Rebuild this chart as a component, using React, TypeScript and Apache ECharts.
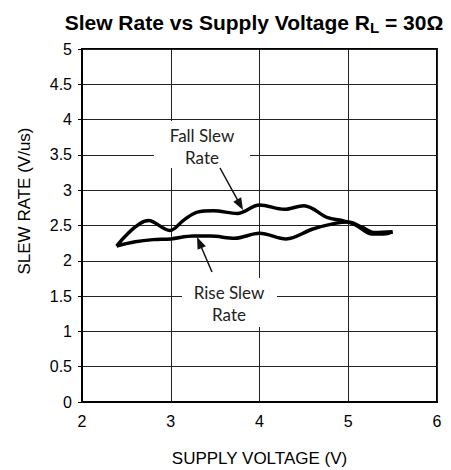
import React, { useEffect, useRef } from "react";
import * as echarts from "echarts";

const fallData: [number, number][] = [
  [2.39, 2.21], [2.75, 2.57], [2.99, 2.43], [3.15, 2.58], [3.3, 2.69], [3.48, 2.71],
  [3.75, 2.67], [4.0, 2.79], [4.28, 2.73], [4.5, 2.78], [4.77, 2.61], [4.93, 2.57],
  [5.08, 2.51], [5.27, 2.38], [5.4, 2.38], [5.5, 2.41],
];
const riseData: [number, number][] = [
  [2.39, 2.21], [2.6, 2.27], [2.8, 2.3], [3.0, 2.31], [3.25, 2.35], [3.45, 2.35],
  [3.72, 2.32], [4.0, 2.39], [4.3, 2.31], [4.6, 2.45], [4.85, 2.53], [5.0, 2.55],
  [5.15, 2.48], [5.3, 2.4], [5.5, 2.41],
];
const xTicks = { min: 2, max: 6, interval: 1 };
const yTicks = { min: 0, max: 5, interval: 0.5 };
const titleMain = "Slew Rate vs Supply Voltage R";
const titleSub = "L";
const titleTail = " = 30Ω";
const xName = "SUPPLY VOLTAGE (V)";
const yName = "SLEW RATE (V/us)";
const fallLabel = ["Fall Slew", "Rate"];
const riseLabel = ["Rise Slew", "Rate"];

const FONT = "'Liberation Sans', Arial, sans-serif";
const ANNO_FONT = "Lato, 'Open Sans', sans-serif";

function arrow(x1: number, y1: number, x2: number, y2: number) {
  const dx = x2 - x1, dy = y2 - y1;
  const len = Math.sqrt(dx * dx + dy * dy);
  const ux = dx / len, uy = dy / len;
  const hl = 12, hw = 4.5;
  const bx = x2 - ux * hl, by = y2 - uy * hl;
  const px = -uy * hw, py = ux * hw;
  return [
    { type: "line", z: 100, shape: { x1, y1, x2: bx + ux * 2, y2: by + uy * 2 }, style: { stroke: "#111", lineWidth: 1.5 } },
    { type: "polygon", z: 100, shape: { points: [[x2, y2], [bx + px, by + py], [bx - px, by - py]] }, style: { fill: "#111" } },
  ];
}

function label(lines: string[], cx: number, y1: number, y2: number, box: [number, number, number, number]) {
  return [
    { type: "rect", z: 99, shape: { x: box[0], y: box[1], width: box[2], height: box[3] }, style: { fill: "#fff" } },
    { type: "text", z: 100, x: cx, y: y1, style: { text: lines[0], font: `17px ${ANNO_FONT}`, fill: "#222", align: "center", verticalAlign: "middle" } },
    { type: "text", z: 100, x: cx, y: y2, style: { text: lines[1], font: `17px ${ANNO_FONT}`, fill: "#222", align: "center", verticalAlign: "middle" } },
  ];
}

export default function App() {
  const ref = useRef<HTMLDivElement>(null);
  useEffect(() => {
    document.body.style.margin = "0";
    const chart = echarts.init(ref.current!, undefined, { renderer: "svg" });
    const lineSeries = (name: string, data: [number, number][]) => ({
      name,
      type: "line",
      data,
      smooth: 0.35,
      showSymbol: false,
      lineStyle: { color: "#000", width: 3.5 },
      z: 5,
    });
    chart.setOption({
      animation: false,
      backgroundColor: "#fff",
      grid: { left: 82, top: 49, width: 355, height: 353, show: true, borderColor: "#000", borderWidth: 2, backgroundColor: "transparent" },
      xAxis: {
        type: "value",
        ...xTicks,
        axisLine: { show: true, lineStyle: { color: "#000", width: 2 } },
        axisTick: { show: false },
        axisLabel: { color: "#000", fontSize: 16, fontFamily: FONT, margin: 11 },
        splitLine: { show: true, lineStyle: { color: "#222", width: 1 } },
      },
      yAxis: {
        type: "value",
        ...yTicks,
        axisLine: { show: true, lineStyle: { color: "#000", width: 2 } },
        axisTick: { show: true, length: 4, lineStyle: { color: "#000", width: 1 } },
        axisLabel: { color: "#000", fontSize: 16, fontFamily: FONT, margin: 10 },
        splitLine: { show: true, lineStyle: { color: "#222", width: 1 } },
      },
      series: [lineSeries("Fall Slew Rate", fallData), lineSeries("Rise Slew Rate", riseData)],
      graphic: [
        {
          type: "text", z: 100, x: 254, y: 22,
          style: {
            text: `{a|${titleMain}}{b|${titleSub}}{a|${titleTail}}`,
            align: "center", verticalAlign: "middle",
            rich: {
              a: { fontSize: 21, fontWeight: "bold", fontFamily: FONT, fill: "#000", lineHeight: 24 },
              b: { fontSize: 15, fontWeight: "bold", fontFamily: FONT, fill: "#000", lineHeight: 24, padding: [10, 0, 0, 0] },
            },
          },
        },
        { type: "text", z: 100, x: 259.5, y: 458, style: { text: xName, font: `17px ${FONT}`, fill: "#000", align: "center", verticalAlign: "middle" } },
        { type: "text", z: 100, x: 24, y: 201, rotation: Math.PI / 2, style: { text: yName, font: `17px ${FONT}`, fill: "#000", align: "center", verticalAlign: "middle" } },
        ...label(fallLabel, 202, 135, 157, [154, 121, 96, 47]),
        ...label(riseLabel, 229, 292, 314, [182, 278, 95, 49]),
        ...arrow(220, 168, 243, 210),
        ...arrow(212, 272, 197, 237),
      ],
    });
    return () => chart.dispose();
  }, []);
  return <div ref={ref} style={{ width: 451, height: 470 }} />;
}
